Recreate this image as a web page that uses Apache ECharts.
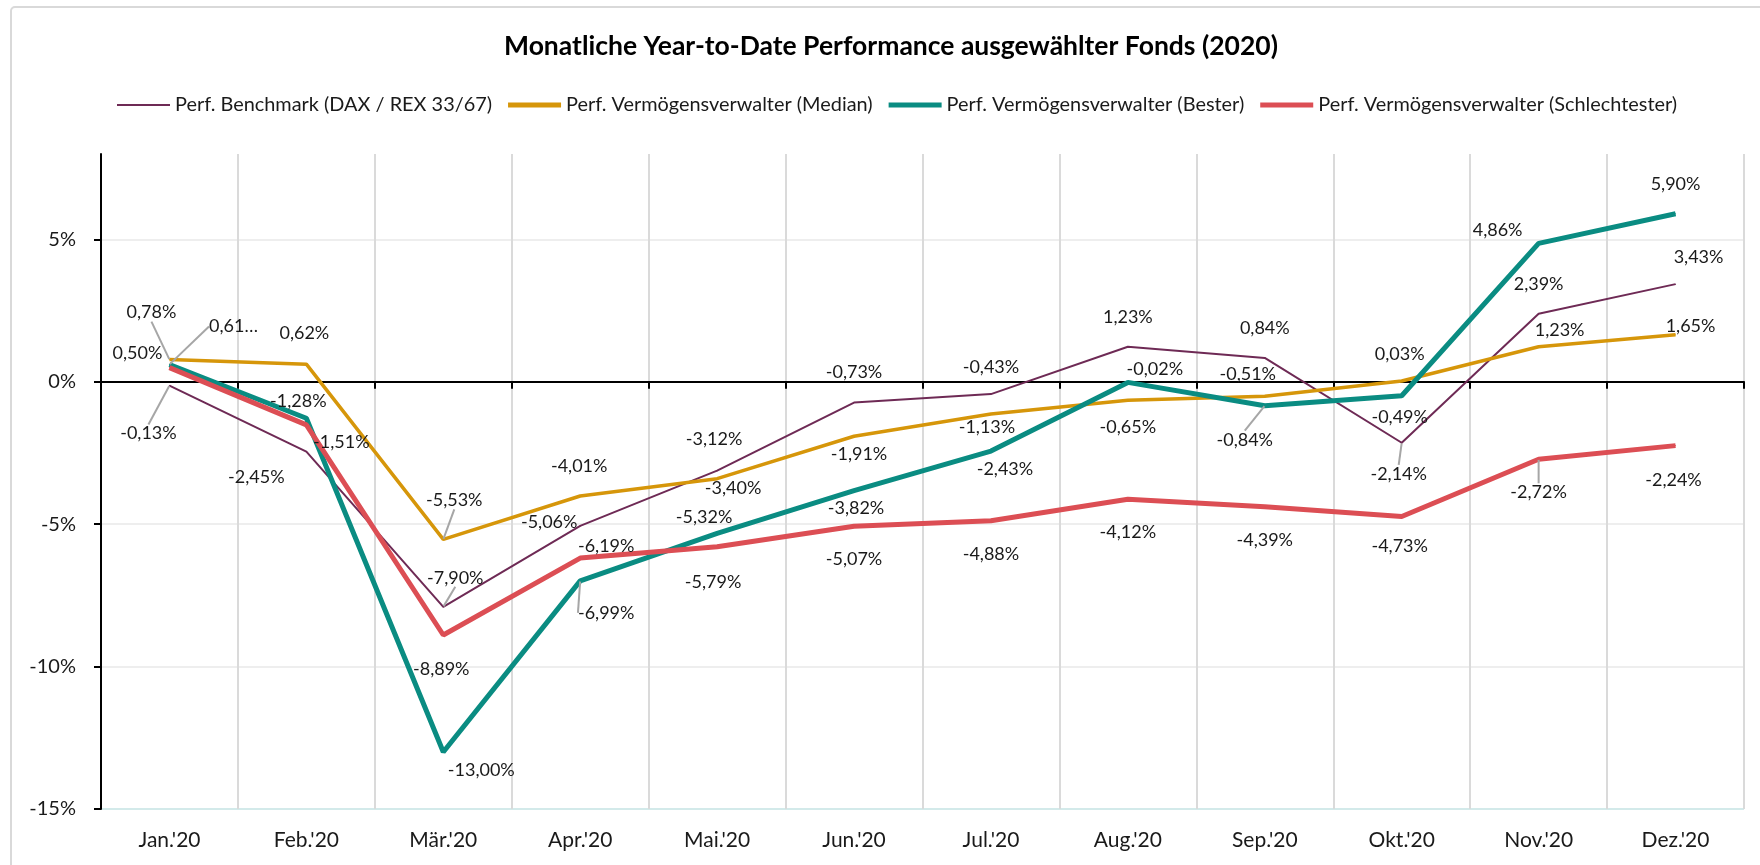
<!DOCTYPE html>
<html><head><meta charset="utf-8">
<script src="https://cdn.jsdelivr.net/npm/echarts@6/dist/echarts.min.js"></script>
<style>html,body{margin:0;padding:0;background:#fff}#c{width:1760px;height:865px}</style>
</head><body><div id="c"></div><script>
const months = ["Jan.'20","Feb.'20","Mär.'20","Apr.'20","Mai.'20","Jun.'20","Jul.'20","Aug.'20","Sep.'20","Okt.'20","Nov.'20","Dez.'20"];
const yTicks = [-15, -10, -5, 0, 5];
const benchmark = [-0.13, -2.45, -7.90, -5.06, -3.12, -0.73, -0.43, 1.23, 0.84, -2.14, 2.39, 3.43];
const median    = [0.78, 0.62, -5.53, -4.01, -3.40, -1.91, -1.13, -0.65, -0.51, 0.03, 1.23, 1.65];
const bester    = [0.61, -1.28, -13.00, -6.99, -5.32, -3.82, -2.43, -0.02, -0.84, -0.49, 4.86, 5.90];
const schlecht  = [0.50, -1.51, -8.89, -6.19, -5.79, -5.07, -4.88, -4.12, -4.39, -4.73, -2.72, -2.24];
const names = ["Perf. Benchmark (DAX / REX 33/67)", "Perf. Vermögensverwalter (Median)", "Perf. Vermögensverwalter (Bester)", "Perf. Vermögensverwalter (Schlechtester)"];
const labelOverride = { 2: { 0: "0,61…" } };

// label placement (offset of label centre from point) and which labels carry a leader line
const offsets = [
  [[-21,48],[-50,26],[12,-29],[-31,-4],[-3,-31],[0,-30],[0,-27],[0,-30],[0,-30],[-3,31],[0,-30],[23,-27]],
  [[-18,-47],[-2,-31],[11,-39],[-1,-30],[16,10],[5,18],[-4,13],[0,27],[-17,-22],[-2,-27],[21,-17],[15,-9]],
  [[64,-38],[-8,-17],[38,18],[26,32],[-13,-16],[2,18],[14,18],[27,-13],[-20,34],[-2,21],[-41,-13],[0,-30]],
  [[-32,-14],[35,17],[-2,34],[26,-12],[-4,35],[0,33],[0,33],[0,33],[0,33],[-2,30],[0,33],[-2,35]]
];
const leaders = [[0,2,9],[0,2],[0,3,8],[10]];
const colors = ['#6E2A55', '#D6960A', '#0A8C82', '#DC4E54'];
const widths = [2, 3.5, 5, 5];
const FONT = 'Lato';

const allValues = [benchmark, median, bester, schlecht];
const fmt = v => v.toFixed(2).replace('.', ',') + '%';

const series = allValues.map((vals, s) => ({
  name: names[s],
  type: 'line',
  xAxisIndex: 0,
  yAxisIndex: 0,
  data: vals.map((v, i) => {
    const d = { value: v };
    if (leaders[s].includes(i)) d.labelLine = { show: true, lineStyle: { color: '#a6a6a6', width: 2 } };
    return d;
  }),
  symbol: 'circle',
  symbolSize: 1,
  showSymbol: true,
  lineStyle: { color: colors[s], width: widths[s] },
  itemStyle: { color: colors[s] },
  emphasis: { disabled: true },
  label: {
    show: true,
    position: 'inside',
    fontFamily: FONT,
    fontSize: 18,
    color: '#1a1a1a',
    formatter: p => (labelOverride[s] && labelOverride[s][p.dataIndex]) || fmt(p.value)
  },
  labelLine: { show: false },
  labelLayout: p => ({ dx: offsets[s][p.dataIndex][0], dy: offsets[s][p.dataIndex][1] }),
  z: 2 + s
}));

const legendIcon = w => 'path://M0,0h53v' + w + 'h-53z';

const chart = echarts.init(document.getElementById('c'), null, { renderer: 'canvas' });
chart.setOption({
  animation: false,
  backgroundColor: '#fff',
  textStyle: { fontFamily: FONT },
  graphic: [{
    type: 'rect', silent: true, z: -10,
    shape: { x: 11, y: 7, width: 1800, height: 900, r: 4 },
    style: { fill: 'none', stroke: '#d9d9d9', lineWidth: 2 }
  }],
  title: {
    text: 'Monatliche Year-to-Date Performance ausgewählter Fonds (2020)',
    left: 499, top: 28,
    textStyle: { fontFamily: FONT, fontSize: 26.5, fontWeight: 'bold', color: '#000' }
  },
  legend: {
    left: 112, top: 90,
    itemWidth: 53, itemHeight: 5, itemGap: 16,
    textStyle: { fontFamily: FONT, fontSize: 19.9, color: '#1a1a1a' },
    data: names.map((n, s) => ({ name: n, icon: legendIcon(s === 0 ? 2 : 5), itemStyle: { color: colors[s] } }))
  },
  grid: { left: 101, right: 16, top: 154, bottom: 56, containLabel: false },
  xAxis: [{
    type: 'category', data: months, position: 'top', boundaryGap: true,
    axisLine: { onZero: true, lineStyle: { color: '#000', width: 2 } },
    axisTick: { show: true, inside: true, length: 7, lineStyle: { color: '#000', width: 2 } },
    axisLabel: { show: false },
    splitLine: { show: true, lineStyle: { color: '#dadada', width: 2 } }
  }, {
    type: 'category', data: months, position: 'bottom', boundaryGap: true,
    axisLine: { show: false, onZero: false },
    axisTick: { show: false },
    splitLine: { show: false },
    axisLabel: { fontFamily: FONT, fontSize: 21, color: '#1a1a1a', margin: 21 }
  }],
  yAxis: [{
    type: 'value', min: -15, max: 8, interval: 1, position: 'left',
    axisLine: { show: true, lineStyle: { color: '#000', width: 2 } },
    axisTick: { show: true, customValues: yTicks, length: 7, lineStyle: { color: '#000', width: 2 } },
    axisLabel: { customValues: yTicks, formatter: v => v + '%', fontFamily: FONT, fontSize: 20, color: '#1a1a1a', margin: 25 },
    splitLine: { show: true, lineStyle: { color: ['#d3eaea', '#eeeeee', '#eeeeee', '#eeeeee', '#eeeeee'], width: 2 } }
  }],
  series
});
</script></body></html>
